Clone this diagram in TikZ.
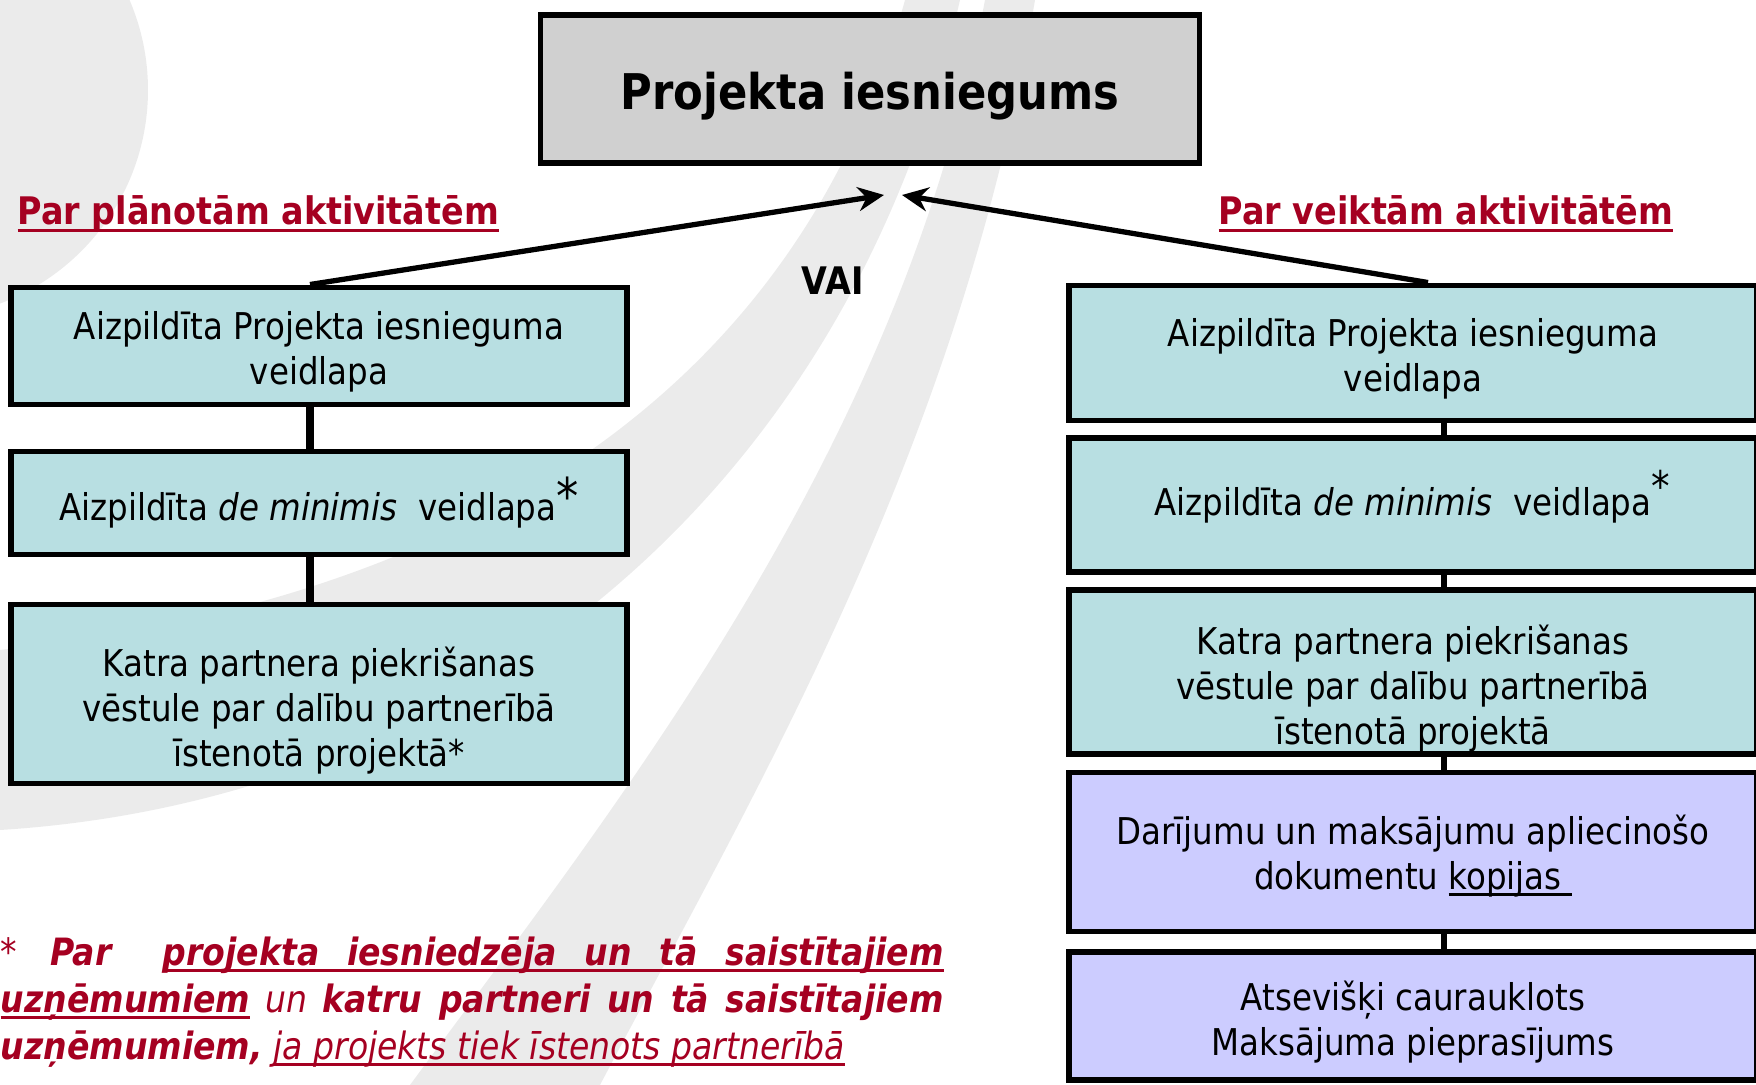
\documentclass[tikz,border=0pt]{standalone}
\usepackage{fontspec}
\setmainfont{DejaVu Sans}[FakeStretch=0.88]
\usetikzlibrary{arrows.meta}
\definecolor{boxblue}{RGB}{184,223,226}
\definecolor{boxlilac}{RGB}{204,204,255}
\definecolor{headgray}{RGB}{208,208,208}
\definecolor{darkred}{RGB}{165,0,33}
\definecolor{swoosh}{RGB}{235,235,235}
% underline at a fixed depth
\newcommand{\redul}[1]{\setbox0=\hbox{#1}\rlap{\rule[-1.9pt]{\wd0}{0.8pt}}\box0\relax}
% taller first line, pushes the text block down
\newcommand{\headroom}[1]{\rule{0pt}{#1}}

\begin{document}
\begin{tikzpicture}[x=0.1mm,y=-0.1mm,>={Stealth[length=2.6mm,width=2.4mm]},
  docbox/.style={draw,line width=1.7pt,align=center,inner sep=0pt,
    font=\fontsize{10.5}{12.8}\selectfont},
  leftbox/.style={docbox,fill=boxblue,minimum width=6.16cm},
  rightbox/.style={docbox,fill=boxblue,minimum width=6.88cm},
  paybox/.style={rightbox,fill=boxlilac},
  heading/.style={text=darkred,inner sep=0pt,anchor=base west,
    font=\fontsize{10.8}{13}\selectfont\bfseries},
  noteline/.style={text=darkred,inner sep=0pt,anchor=base west,
    font=\fontsize{10.7}{13.4}\selectfont\itshape},
  link/.style={line width=2pt},
  rlink/.style={line width=1.7pt},
  choice/.style={->,line width=1.5pt}]

\useasboundingbox (0,0) rectangle (1756,1085);
\clip (0,0) rectangle (1756,1085);

% background swooshes
\fill[swoosh] (-80,90) circle [radius=228];
\fill[swoosh] (905,0) .. controls (800,380) and (480,600) .. (0,650)
  -- (0,830) .. controls (480,800) and (850,480) .. (960,0) -- cycle;
\fill[swoosh] (985,0) .. controls (900,450) and (620,800) .. (410,1085)
  -- (600,1085) .. controls (750,800) and (960,450) .. (1035,0) -- cycle;

\node[draw,line width=1.7pt,fill=headgray,minimum width=6.59cm,minimum height=1.48cm,
  font=\fontsize{14}{17}\selectfont\bfseries] (top) at (870,89) {\headroom{14.5pt}Projekta iesniegums};

\node[heading] (planned) at (17,225) {\redul{Par plānotām aktivitātēm}};
\node[heading] (done) at (1218,225) {\redul{Par veiktām aktivitātēm}};
\node[heading,text=black] (or) at (801,295) {VAI};

% left column
\node[leftbox,minimum height=1.17cm] (L1) at (319,346) {\headroom{11.4pt}Aizpildīta Projekta iesnieguma\\veidlapa};
\node[leftbox,minimum height=1.03cm] (L2) at (319,503) {Aizpildīta \textit{de minimis}\ \ veidlapa\raisebox{0.3ex}{\Large *}};
\node[leftbox,minimum height=1.79cm] (L3) at (319,694) {\headroom{17.8pt}Katra partnera piekrišanas\\vēstule par dalību partnerībā\\īstenotā projektā*};

% right column
\node[rightbox,minimum height=1.35cm] (R1) at (1413,353) {\headroom{11.4pt}Aizpildīta Projekta iesnieguma\\veidlapa};
\node[rightbox,minimum height=1.34cm] (R2) at (1413,505) {Aizpildīta \textit{de minimis}\ \ veidlapa\smash{\textsuperscript{\large *}}};
\node[rightbox,minimum height=1.64cm] (R3) at (1413,672) {\headroom{17.8pt}Katra partnera piekrišanas\\vēstule par dalību partnerībā\\īstenotā projektā};
\node[paybox,minimum height=1.59cm] (R4) at (1413,852) {\headroom{10.7pt}Darījumu un maksājumu apliecinošo\\dokumentu \redul{kopijas\ }};
\node[paybox,minimum height=1.28cm] (R5) at (1413,1016) {\headroom{12pt}Atsevišķi caurauklots\\Maksājuma pieprasījums};

\draw[link] ([xshift=-0.9mm]L1.south) -- ([xshift=-0.9mm]L2.north);
\draw[link] ([xshift=-0.9mm]L2.south) -- ([xshift=-0.9mm]L3.north);
\foreach \a/\b in {R1/R2,R2/R3,R3/R4,R4/R5}
  \draw[rlink] ([xshift=3.1mm]\a.south) -- ([xshift=3.1mm]\b.north);

\coordinate (tipL) at (884,195);
\coordinate (tipR) at (902,195);
\draw[choice] ([xshift=-0.9mm]L1.north) -- (tipL);
\draw[choice] ([xshift=1.5mm]R1.north) -- (tipR);

% footnote
\node[noteline] (note1) at (0,965) {\makebox[0.5cm][l]{\upshape *}\makebox[1.12cm][l]{\bfseries Par}\redul{\makebox[7.81cm][s]{\bfseries projekta iesniedzēja un tā saistītajiem}}};
\node[noteline] (note2) at (0,1012) {\makebox[9.43cm][s]{\redul{\bfseries uzņēmumiem} un \bfseries katru partneri un tā saistītajiem}};
\node[noteline] (note3) at (0,1059) {{\bfseries uzņēmumiem,} \redul{ja projekts tiek īstenots partnerībā}};

\end{tikzpicture}
\end{document}
